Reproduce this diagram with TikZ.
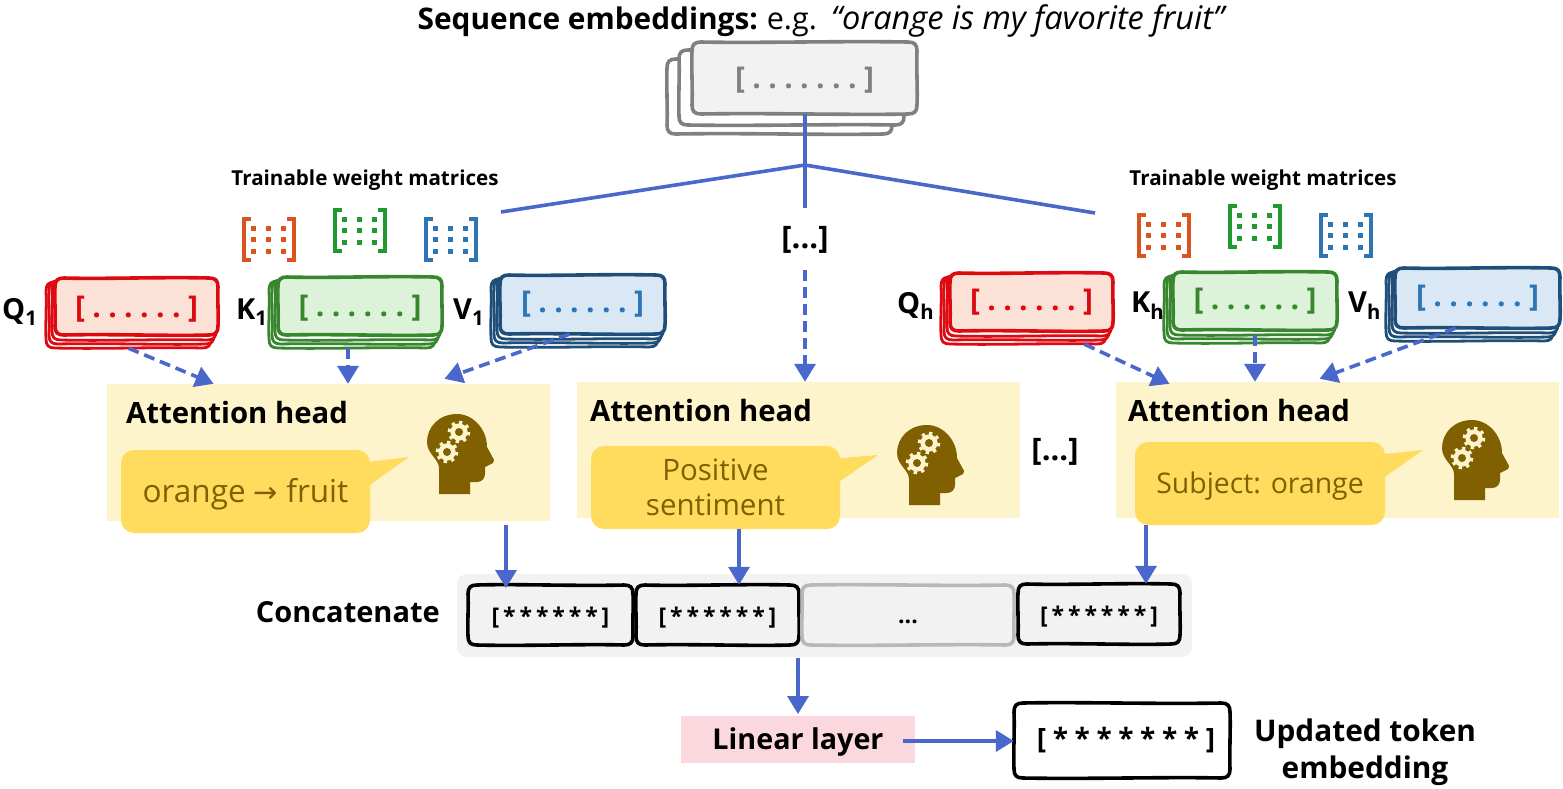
\documentclass[tikz,border=0pt]{standalone}
\usepackage{fontspec}
\setmainfont{Open Sans}
\newfontfamily\arrowfont{DejaVu Sans}
\usetikzlibrary{arrows.meta,calc}
\definecolor{arrowblue}{HTML}{4A68CC}
\definecolor{panelyellow}{HTML}{FEF4CB}
\definecolor{calloutyellow}{HTML}{FFDB5E}
\definecolor{brownish}{HTML}{806000}
\definecolor{qstroke}{HTML}{DD0A12}\definecolor{qfill}{HTML}{FCE2D6}
\definecolor{kstroke}{HTML}{38872F}\definecolor{kfill}{HTML}{DCF3D9}
\definecolor{vstroke}{HTML}{1F4E79}\definecolor{vfill}{HTML}{DAE8F6}
\definecolor{vtext}{HTML}{2E75B6}
\definecolor{morange}{HTML}{D9541E}\definecolor{mgreen}{HTML}{1F9A2F}\definecolor{mblue}{HTML}{2E75B6}
\definecolor{linfill}{HTML}{FBD7DE}
\definecolor{topgray}{HTML}{808080}
\definecolor{softgray}{HTML}{F2F2F2}
\newcommand\fs[1]{\fontsize{#1}{#1}\selectfont}
\newcommand\seq[3]{[\foreach \i in {1,...,#2}{\hspace{#3}#1}\hspace{#3}]}
% moves a text down inside its centred node: the kern is twice the shift
\newcommand\low[2]{\vbox{\kern#1\hbox{#2}}}
\tikzset{
  solidarrow/.style={draw=arrowblue,line width=3.6pt,-{Triangle[width=21pt,length=18pt]}},
  dasharrow/.style={solidarrow,dash pattern=on 11pt off 6pt},
  branch/.style={draw=arrowblue,line width=3.6pt},
  panel/.style={fill=panelyellow,inner sep=0pt},
  callout/.style={fill=calloutyellow,rounded corners=13pt,inner sep=0pt,text=brownish,align=center},
  headlabel/.style={font=\bfseries\fs{29.3},anchor=west,inner sep=0pt},
  letter/.style={font=\bfseries\fs{29},inner sep=0pt},
  weights/.style={font=\bfseries\fs{20.6},inner sep=0pt},
  seqfont/.style={font=\bfseries\fs{30}},
  starfont/.style={font=\bfseries\fs{23}},
}
% name, l, t, r, b, style, text: plain box
\newcommand\bx[7]{\node[#6,minimum width={(#4)-(#2)},minimum height={(#5)-(#3)}] (#1) at ({((#2)+(#4))/2},{((#3)+(#5))/2}) {#7};}
% wobble sign alternates between hand-drawn boxes
\newcount\wobc
% name, l, t, r, b, draw opts, node opts, text: hand-drawn box
\newcommand\sk[8]{\begingroup
  \global\advance\wobc by 1
  \ifodd\wobc\def\wb{1.2}\else\def\wb{-1.2}\fi
  \pgfmathsetmacro\L{#2}\pgfmathsetmacro\T{#3}\pgfmathsetmacro\R{#4}\pgfmathsetmacro\B{#5}%
  \pgfmathsetmacro\W{\R-\L}\pgfmathsetmacro\H{\B-\T}%
  \def\cr{9}%
  \draw[line width=3.6pt,line join=round,#6]
    (\L+\cr,\T) .. controls (\L+.3*\W,\T+\wb) and (\L+.65*\W,\T-\wb) .. (\R-\cr,\T)
    .. controls (\R-2.5,\T) and (\R,\T+2.5) .. (\R,\T+\cr)
    .. controls (\R-.6*\wb,\T+.35*\H) and (\R+.6*\wb,\T+.65*\H) .. (\R,\B-\cr)
    .. controls (\R,\B-2.5) and (\R-2.5,\B) .. (\R-\cr,\B)
    .. controls (\L+.7*\W,\B+\wb) and (\L+.35*\W,\B-\wb) .. (\L+\cr,\B)
    .. controls (\L+2.5,\B) and (\L,\B-2.5) .. (\L,\B-\cr)
    .. controls (\L+.6*\wb,\T+.65*\H) and (\L-.6*\wb,\T+.35*\H) .. (\L,\T+\cr)
    .. controls (\L,\T+2.5) and (\L+2.5,\T) .. (\L+\cr,\T) -- cycle;
  \bx{#1}{#2}{#3}{#4}{#5}{inner sep=0pt,#7}{#8}
  \endgroup}
% name, l, t, r, b, stroke, fill, text
\newcommand\stk[8]{%
  \sk{#1c}{#2-9}{#3+4}{#4-7}{#5+13}{draw=#6,fill=white,line width=2.8pt}{}{}
  \sk{#1b}{#2-6}{#3+3}{#4-4}{#5+9}{draw=#6,fill=white,line width=2.8pt}{}{}
  \sk{#1a}{#2-3}{#3+2}{#4-2}{#5+5}{draw=#6,fill=white,line width=2.8pt}{}{}
  \sk{#1}{#2}{#3}{#4}{#5}{draw=#6,fill=#7}{seqfont}{#8}
}
% matrix icon: left, top, colour
\newcommand\mtx[3]{\begin{scope}[shift={(#1,#2)}]
  \draw[#3,line width=4pt] (9,2)--(2,2)--(2,43)--(9,43);
  \draw[#3,line width=4pt] (45,2)--(52,2)--(52,43)--(45,43);
  \foreach \u in {11,26,41}\foreach \v in {11,22.5,34}
    \fill[#3] (\u-2.5,\v-2.5) rectangle (\u+2.5,\v+2.5);
\end{scope}}
\newcommand\gear[2]{%
  \fill[panelyellow] (#1,#2) circle (8.6);
  \foreach \a in {0,45,...,315}{\draw[panelyellow,line width=3.4pt] (#1,#2) -- ++(\a+10:11.2);}
  \fill[brownish] (#1,#2) circle (4);
}
\newcommand\headicon[2]{\begin{scope}[shift={(#1,#2)}]
  \fill[brownish] (12,80)--(43,80)--(43,68)--(50,68) .. controls (55,68) and (58,64) .. (58,60)
    --(58,53)--(66,49) .. controls (68,47) and (67,45) .. (66,44) --(60,33)
    .. controls (60,15) and (46,0) .. (30,0) .. controls (12,0) and (0,13) .. (0,28)
    .. controls (0,40) and (12,45) .. (12,54) -- cycle;
  \gear{32}{18}\gear{20}{38}
\end{scope}}
\begin{document}
\begin{tikzpicture}[x=1pt,y=-1pt]
\useasboundingbox (0,0) rectangle (1563,788);

% title
\node[inner sep=0pt] (title) at (821,21) {{\bfseries\fs{29.8}Sequence embeddings:}\hspace{9pt}{\fs{30.5}e.g.}\hspace{14pt}{\itshape\fs{32.5}``orange is my favorite fruit''}};

% top stack
\sk{topc}{667}{59}{892}{134}{draw=topgray,fill=white}{}{}
\sk{topb}{679}{50}{904}{125}{draw=topgray,fill=white}{}{}
\sk{top}{692}{42}{917}{114}{draw=topgray,fill=softgray}{text=topgray,seqfont}{\low{4pt}{\seq{.}{7}{7.4pt}}}

% junction and branches
\coordinate (hub) at (805,165);
\coordinate (branchL) at (501,212);
\coordinate (branchR) at (1095,213);
\node[font=\bfseries\fs{31},inner sep=0pt] (midDots) at (805,240) {[...]};
\draw[branch] (top.south -| hub) -- (805,208);
\draw[branch] (branchL) -- (hub) -- (branchR);

% weights labels
\node[weights] (twL) at (365,180) {Trainable weight matrices};
\node[weights] (twR) at (1263,180) {Trainable weight matrices};
\mtx{242}{217}{morange}\mtx{333}{208}{mgreen}\mtx{424}{217}{mblue}
\mtx{1137}{213}{morange}\mtx{1228}{204}{mgreen}\mtx{1319}{213}{mblue}

% Q K V stacks, left
\stk{qone}{55}{278}{218}{335}{qstroke}{qfill}{\low{6pt}{\color{qstroke}\seq{.}{6}{7.4pt}}}
\stk{kone}{278}{277}{442}{335}{kstroke}{kfill}{\low{4pt}{\color{kstroke}\seq{.}{6}{7.4pt}}}
\stk{vone}{500}{275}{665}{334}{vstroke}{vfill}{\color{vtext}\seq{.}{6}{7.4pt}}
% right
\stk{qh}{950}{273}{1113}{331}{qstroke}{qfill}{\color{qstroke}\seq{.}{6}{7.4pt}}
\stk{kh}{1173}{272}{1337}{330}{kstroke}{kfill}{\color{kstroke}\seq{.}{6}{7.4pt}}
\stk{vh}{1395}{268}{1560}{328}{vstroke}{vfill}{\color{vtext}\seq{.}{6}{7.4pt}}

\node[letter,anchor=west] (lq1) at (2,312) {Q\textsubscript{1}};
\node[letter,anchor=west] (lk1) at (236,312) {K\textsubscript{1}};
\node[letter,anchor=west] (lv1) at (453,312) {V\textsubscript{1}};
\node[letter,anchor=west] (lqh) at (897,306) {Q\textsubscript{h}};
\node[letter,anchor=west] (lkh) at (1131,306) {K\textsubscript{h}};
\node[letter,anchor=west] (lvh) at (1348,306) {V\textsubscript{h}};

% panels
\bx{pa}{107}{384}{550}{521}{panel}{}
\bx{pb}{577}{382}{1020}{518}{panel}{}
\bx{pc}{1116}{382}{1559}{518}{panel}{}
\node[headlabel] (ha) at (126,413) {Attention head};
\node[headlabel] (hb) at (590,411) {Attention head};
\node[headlabel] (hc) at (1128,411) {Attention head};

% callouts
\fill[calloutyellow] (360,463)--(409,457)--(360,492)--cycle;
\fill[calloutyellow] (830,459)--(878,455)--(830,488)--cycle;
\fill[calloutyellow] (1375,455)--(1423,450)--(1375,484)--cycle;
\bx{ca}{121}{450}{370}{533}{callout,font=\fs{31.5}}{\low{6pt}{orange {\arrowfont\fs{29}→} fruit}}
\bx{cb}{591}{446}{840}{529}{callout,font=\fs{29.5}}{Positive\\[5pt]sentiment}
\bx{cc}{1135}{442}{1385}{525}{callout,font=\fs{28.4}}{\low{6pt}{Subject: orange}}

\headicon{427}{414}\headicon{897}{425}\headicon{1442}{420}

\node[font=\bfseries\fs{31},inner sep=0pt] (rightDots) at (1055,452) {[...]};

% dashed arrows
\draw[dasharrow] ([xshift=-8pt]qone.south |- qonec.south) -- ([xshift=-115pt]pa.north);
\draw[dasharrow] ([xshift=-12pt]kone.south |- konec.south) -- ([xshift=-12pt]kone.south |- pa.north);
\draw[dasharrow] ([xshift=-13pt]vone.south) -- ([xshift=116pt,yshift=5pt]pa.north);
\coordinate (midTop) at (805,270);
\draw[dasharrow] (midTop) -- (midTop |- pb.north);
\draw[dasharrow] ([xshift=53pt]qh.south |- qhc.south) -- ([xshift=-168pt,yshift=-2pt]pc.north);
\draw[dasharrow] ([yshift=-5pt]kh.south) -- ([yshift=0pt]kh.south |- pc.north);
\draw[dasharrow] ([xshift=-22pt]vh.south) -- ([xshift=-18pt,yshift=3pt]pc.north);

% concatenate
\node[font=\bfseries\fs{29},anchor=east,inner sep=0pt] (conc) at (440,612) {Concatenate};
\bx{cat}{457}{574}{1192}{657}{fill=softgray,rounded corners=10pt,inner sep=0pt}{}
\sk{s1}{468}{585}{633}{645}{draw=black}{starfont}{\low{6pt}{\seq{*}{6}{3.9pt}}}
\sk{s2}{636}{585}{799}{645}{draw=black}{starfont}{\low{6pt}{\seq{*}{6}{3.9pt}}}
\sk{s3}{802}{585}{1014}{645}{draw=black!28}{starfont}{\low{14pt}{...}}
\sk{s4}{1018}{584}{1180}{644}{draw=black}{starfont}{\low{6pt}{\seq{*}{6}{3.9pt}}}

% solid arrows
\coordinate (pab) at (506,525);
\draw[solidarrow] (pab) -- (506,588);
\coordinate (cbbot) at (739,529);
\draw[solidarrow] (cbbot) -- (cbbot |- s2.north);
\coordinate (pcb) at (1146,525);
\draw[solidarrow] (pcb) -- (pcb |- s4.north);

% linear layer
\bx{lin}{681}{716}{915}{763}{fill=linfill,inner sep=0pt,font=\bfseries\fs{28.7}}{\low{6pt}{Linear layer}}
\sk{out}{1014}{703}{1230}{778}{draw=black}{font=\bfseries\fs{28}}{\hspace*{8pt}\seq{*}{7}{6.6pt}}
\draw[solidarrow] (798,658) -- (798,714);
\coordinate (linOut) at (903,741);
\draw[solidarrow] (linOut) -- (out.west |- linOut);
\node[font=\bfseries\fs{29.8},align=center,inner sep=0pt] (upd) at (1365,752) {Updated token\\[7pt]embedding};
\end{tikzpicture}
\end{document}
